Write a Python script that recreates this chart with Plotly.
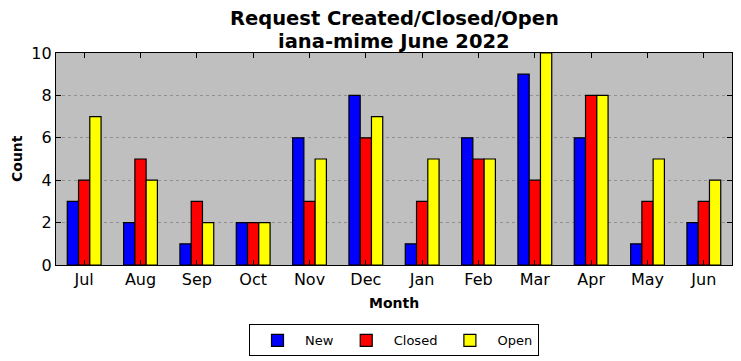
import plotly.graph_objects as go

months = ["Jul", "Aug", "Sep", "Oct", "Nov", "Dec", "Jan", "Feb", "Mar", "Apr", "May", "Jun"]
new_vals = [3, 2, 1, 2, 6, 8, 1, 6, 9, 6, 1, 2]
closed_vals = [4, 5, 3, 2, 3, 6, 3, 5, 4, 8, 3, 3]
open_vals = [7, 4, 2, 2, 5, 7, 5, 5, 10, 8, 5, 4]

font = "DejaVu Sans"
fig = go.Figure()
for name, vals, col in [("New", new_vals, "#0000ff"), ("Closed", closed_vals, "#ff0000"), ("Open", open_vals, "#ffff00")]:
    fig.add_trace(go.Bar(x=months, y=vals, name=name, marker=dict(color=col, line=dict(color="black", width=1.2))))

fig.update_layout(
    width=741, height=361,
    margin=dict(l=56, r=9, t=53, b=96, autoexpand=False),
    barmode="group", bargap=0.4, bargroupgap=0,
    plot_bgcolor="#bfbfbf", paper_bgcolor="white",
    font=dict(family=font, color="black"),
    xaxis=dict(range=[-0.5, 11.5], showline=True, linecolor="black", linewidth=1.2, mirror="ticks",
               ticks="inside", ticklen=5, tickcolor="black", tickfont=dict(size=16),
               showgrid=False, automargin=False),
    yaxis=dict(range=[0, 10], dtick=2, showline=True, linecolor="black", linewidth=1.2, mirror="ticks",
               ticks="inside", ticklen=5, tickcolor="black", tickfont=dict(size=16),
               showgrid=True, gridcolor="#909090", griddash="dot", gridwidth=1, zeroline=False,
               automargin=False),
    legend=dict(orientation="h", x=0.5, xanchor="center", y=-0.28, yanchor="top",
                bordercolor="black", borderwidth=1, font=dict(size=13), traceorder="normal",
                itemwidth=45, tracegroupgap=0),
    annotations=[
        dict(text="<b>Request Created/Closed/Open</b>", xref="paper", yref="paper", x=0.5, y=(265 - 19) / 212,
             showarrow=False, font=dict(size=19.5), xanchor="center", yanchor="middle"),
        dict(text="<b>iana-mime June 2022</b>", xref="paper", yref="paper", x=0.5, y=(265 - 41) / 212,
             showarrow=False, font=dict(size=19.5), xanchor="center", yanchor="middle"),
        dict(text="<b>Month</b>", xref="paper", yref="paper", x=0.5, y=(265 - 303) / 212,
             showarrow=False, font=dict(size=14), xanchor="center", yanchor="middle"),
        dict(text="<b>Count</b>", xref="paper", yref="paper", x=(17 - 56) / 676, y=0.5, textangle=-90,
             showarrow=False, font=dict(size=14), xanchor="center", yanchor="middle"),
    ],
)
fig.write_html("out.html", config={"displayModeBar": False},
               post_script="document.body.style.margin='0';document.body.style.padding='0';")
